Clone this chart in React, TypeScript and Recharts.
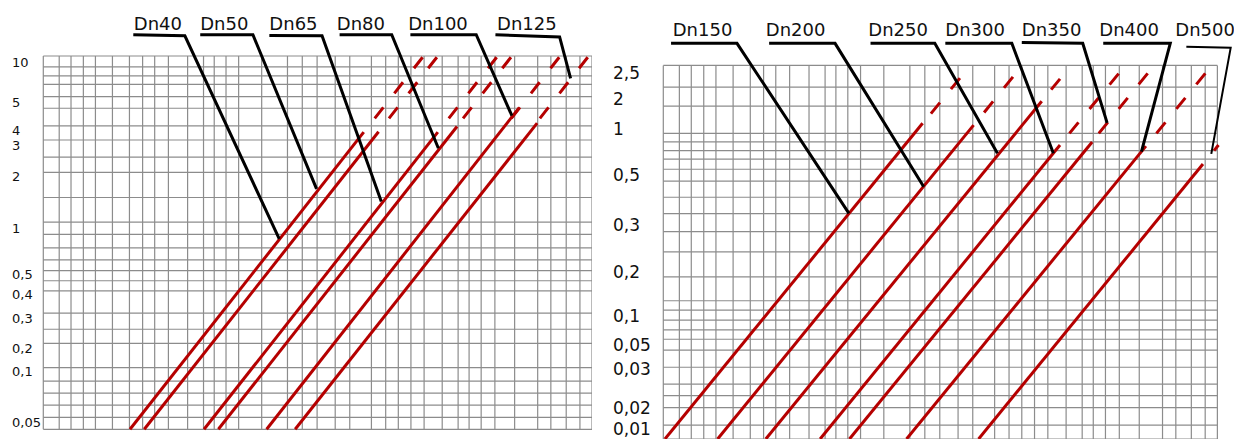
import React from "react";
import { LineChart, Line, XAxis, YAxis, ReferenceDot } from "recharts";

// column layout shared by both grids (0 = left edge, 100 = right edge)
const gridCols = [
  0, 2.9, 5.05, 7.3, 9.5, 12.6, 15.7, 18.1, 20.3, 22.8, 26.3, 29.2, 31.15, 33.3,
  35.6, 39.8, 44.5, 47.2, 49.9, 53.2, 55.85, 59.8, 62.4, 64.7, 67.0, 69.4, 72.7,
  75.6, 77.6, 79.8, 82.3, 85.9, 90.1, 92.5, 95.3, 97.8, 100,
];

// ---- left chart: Dn40 .. Dn125 ----
const leftRows = [
  0, 3.2, 6.5, 9.7, 12.9, 16.5, 23.0, 26.8, 31.1, 37.1, 39.8, 42.5, 45.4, 48.6,
  52.2, 55.5, 62.1, 68.8, 72.9, 77.5, 81.3, 86.0, 89.1, 92.4, 94.7, 97.1, 100,
];
const leftTickPos = [98.4, 87.6, 80.2, 76.2, 67.7, 53.8, 41.6, 36.2, 29.7, 21.7, 15.4, 2.0];
const leftTickLabels = ["10", "5", "4", "3", "2", "1", "0,5", "0,4", "0,3", "0,2", "0,1", "0,05"];
const leftNames = ["Dn40", "Dn50", "Dn65", "Dn80", "Dn100", "Dn125"];
const leftStartU = [15.8, 18.4, 29.3, 31.9, 40.7, 45.9];
const leftSolidEndU = [58.4, 61.1, 71.9, 75.4, 86.7, 90.0];
const leftSolidEndV = [79.6, 79.7, 79.6, 81.1, 86.1, 82.0];
const leftDashStartU = [60.4, 63.0, 73.9, 76.5, 85.3, 90.5];
const leftDashStartV = [83.3, 83.3, 83.3, 83.3, 83.3, 83.3];
const leftDashEndU = [69.2, 71.8, 82.7, 85.3, 94.1, 99.3];
const leftDashEndV = [99.8, 99.8, 99.8, 99.8, 99.8, 99.8];
const leftLabelU = [16.5, 28.6, 41.2, 53.5, 66.5, 82.7];
const leftLabelV = [108.6, 108.6, 108.6, 108.6, 108.6, 108.6];
const leftLeaderU = [
  [16.4, 25.8, 43.0],
  [28.6, 38.2, 49.8],
  [41.2, 50.8, 61.6],
  [54.0, 63.5, 72.0],
  [66.9, 78.9, 85.4],
  [82.4, 94.1, 96.1],
];
const leftLeaderV = [
  [105.7, 105.4, 51.0],
  [105.7, 105.7, 64.4],
  [105.5, 105.4, 61.0],
  [105.7, 105.7, 75.3],
  [105.7, 105.7, 84.0],
  [105.7, 105.1, 94.0],
];
const leftLeaderWidth = [3, 3, 3, 3, 3, 3];

// ---- right chart: Dn150 .. Dn500 ----
const rightRows = [
  0, 3.7, 8.4, 11.6, 14.7, 19.2, 23.8, 26.7, 29.2, 31.8, 34.5, 37.0, 43.4, 50.1,
  55.5, 60.3, 64.7, 69.0, 72.2, 74.9, 77.2, 79.5, 81.8, 89.1, 94.2, 100,
];
const rightTickPos = [98.0, 91.0, 83.1, 70.6, 57.3, 44.6, 33.0, 25.2, 18.7, 8.3, 2.8];
const rightTickLabels = ["2,5", "2", "1", "0,5", "0,3", "0,2", "0,1", "0,05", "0,03", "0,02", "0,01"];
const rightNames = ["Dn150", "Dn200", "Dn250", "Dn300", "Dn350", "Dn400", "Dn500"];
const rightStartU = [0.3, 9.8, 18.5, 28.3, 33.6, 43.9, 56.9];
const rightSolidEndU = [46.8, 56.0, 68.3, 71.6, 77.4, 87.1, 97.4];
const rightSolidEndV = [84.5, 84.0, 90.4, 78.7, 79.5, 78.4, 73.6];
const rightDashStartU = [48.3, 57.9, 70.0, 73.3, 78.6, 89.0, 99.4];
const rightDashStartV = [87.1, 87.4, 93.5, 81.8, 81.8, 81.8, 77.2];
const rightDashEndU = [53.6, 63.2, 71.6, 82.4, 87.6, 98.0, 100.2];
const rightDashEndV = [96.7, 97.1, 96.4, 98.2, 98.2, 98.2, 78.7];
const rightLabelU = [1.7, 18.5, 37.0, 50.9, 64.7, 78.7, 92.4];
const rightLabelV = [109.5, 109.5, 109.5, 109.5, 109.5, 109.5, 109.5];
const rightLeaderU = [
  [1.4, 13.3, 33.5],
  [19.1, 31.0, 47.0],
  [37.4, 49.0, 60.3],
  [50.9, 62.9, 70.4],
  [64.7, 75.7, 80.1],
  [79.4, 91.5, 86.3],
  [94.4, 102.4, 98.9],
];
const rightLeaderV = [
  [105.9, 105.9, 60.4],
  [105.9, 105.9, 67.5],
  [105.9, 105.9, 76.5],
  [105.9, 105.9, 76.5],
  [106.1, 105.9, 84.6],
  [105.9, 105.9, 76.9],
  [105.0, 104.7, 76.3],
];
const rightLeaderWidth = [3, 3, 3, 3, 3, 3, 2];

const GRID = "#8c8c8c";
const RED = "#b50000";

type PanelProps = {
  width: number;
  height: number;
  bottom: number;
  axisWidth: number;
  xMax: number;
  yMax: number;
  rows: number[];
  tickPos: number[];
  tickLabels: string[];
  tickX: number;
  tickSize: number;
  names: string[];
  startU: number[];
  solidEndU: number[];
  solidEndV: number[];
  dashStartU: number[];
  dashStartV: number[];
  dashEndU: number[];
  dashEndV: number[];
  labelU: number[];
  labelV: number[];
  leaderU: number[][];
  leaderV: number[][];
  leaderWidth: number[];
  dash: string;
};

const Panel = (p: PanelProps) => {
  const tick = (t: any) => (
    <text x={p.tickX} y={t.y} dy="0.36em" fontSize={p.tickSize} fill="#111" textAnchor="start">
      {p.tickLabels[p.tickPos.indexOf(t.payload.value)]}
    </text>
  );
  const plain = { dot: false, activeDot: false, isAnimationActive: false, dataKey: "v" } as const;

  return (
    <LineChart width={p.width} height={p.height} margin={{ top: 0, right: 0, bottom: p.bottom, left: 0 }}>
      <XAxis type="number" dataKey="u" domain={[0, p.xMax]} hide />
      <YAxis
        type="number"
        domain={[0, p.yMax]}
        ticks={p.tickPos}
        interval={0}
        width={p.axisWidth}
        axisLine={false}
        tickLine={false}
        tick={tick}
      />
      {gridCols.map((u, i) => (
        <Line key={`c${i}`} {...plain} data={[{ u, v: 0 }, { u, v: 100 }]} stroke={GRID} strokeWidth={1.2} />
      ))}
      {p.rows.map((v, i) => (
        <Line key={`r${i}`} {...plain} data={[{ u: 0, v }, { u: 100, v }]} stroke={GRID} strokeWidth={1.2} />
      ))}
      {p.names.map((n, i) => (
        <Line
          key={`s${n}`}
          {...plain}
          data={[{ u: p.startU[i], v: 0 }, { u: p.solidEndU[i], v: p.solidEndV[i] }]}
          stroke={RED}
          strokeWidth={3}
        />
      ))}
      {p.names.map((n, i) => (
        <Line
          key={`d${n}`}
          {...plain}
          data={[{ u: p.dashStartU[i], v: p.dashStartV[i] }, { u: p.dashEndU[i], v: p.dashEndV[i] }]}
          stroke={RED}
          strokeWidth={3}
          strokeDasharray={p.dash}
        />
      ))}
      {p.names.map((n, i) => (
        <Line
          key={`l${n}`}
          {...plain}
          data={p.leaderU[i].map((u, j) => ({ u, v: p.leaderV[i][j] }))}
          stroke="#000"
          strokeWidth={p.leaderWidth[i]}
        />
      ))}
      {p.names.map((n, i) => (
        <ReferenceDot
          key={`t${n}`}
          x={p.labelU[i]}
          y={p.labelV[i]}
          r={0}
          fill="none"
          stroke="none"
          label={{ value: n, position: "right", offset: 0, fontSize: 18, fill: "#111" }}
        />
      ))}
    </LineChart>
  );
};

export default function App() {
  return (
    <div
      style={{
        position: "absolute",
        left: 0,
        top: 0,
        width: 1234,
        height: 439,
        background: "#fff",
        overflow: "hidden",
        fontFamily: '"DejaVu Sans", sans-serif',
      }}
    >
      <div style={{ position: "absolute", left: 0, top: 0 }}>
        <Panel
          width={592}
          height={439}
          bottom={9.7}
          axisWidth={43.3}
          xMax={100}
          yMax={115}
          rows={leftRows}
          tickPos={leftTickPos}
          tickLabels={leftTickLabels}
          tickX={12}
          tickSize={13}
          names={leftNames}
          startU={leftStartU}
          solidEndU={leftSolidEndU}
          solidEndV={leftSolidEndV}
          dashStartU={leftDashStartU}
          dashStartV={leftDashStartV}
          dashEndU={leftDashEndU}
          dashEndV={leftDashEndV}
          labelU={leftLabelU}
          labelV={leftLabelV}
          leaderU={leftLeaderU}
          leaderV={leftLeaderV}
          leaderWidth={leftLeaderWidth}
          dash="14 17.8"
        />
      </div>
      <div style={{ position: "absolute", left: 600, top: 0 }}>
        <Panel
          width={634}
          height={439}
          bottom={0}
          axisWidth={63.3}
          xMax={103}
          yMax={117.5}
          rows={rightRows}
          tickPos={rightTickPos}
          tickLabels={rightTickLabels}
          tickX={13}
          tickSize={17}
          names={rightNames}
          startU={rightStartU}
          solidEndU={rightSolidEndU}
          solidEndV={rightSolidEndV}
          dashStartU={rightDashStartU}
          dashStartV={rightDashStartV}
          dashEndU={rightDashEndU}
          dashEndV={rightDashEndV}
          labelU={rightLabelU}
          labelV={rightLabelV}
          leaderU={rightLeaderU}
          leaderV={rightLeaderV}
          leaderWidth={rightLeaderWidth}
          dash="14.2 17.4"
        />
      </div>
    </div>
  );
}
